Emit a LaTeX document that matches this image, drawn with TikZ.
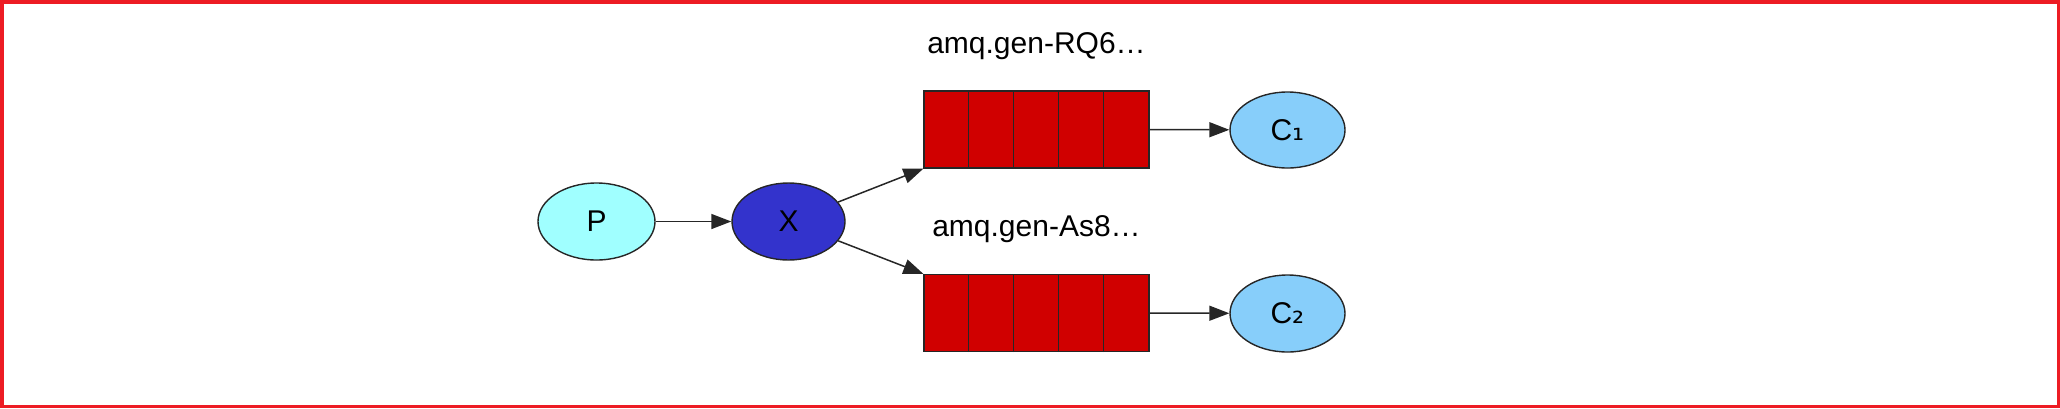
\documentclass[tikz,border=0pt]{standalone}
\usepackage{fontspec}
\setmainfont{Liberation Sans}
\newfontfamily\djv{DejaVu Sans}
\usetikzlibrary{shapes.geometric,arrows.meta}
\definecolor{framered}{HTML}{ED1C24}
\definecolor{pfill}{HTML}{A0FFFF}
\definecolor{xfill}{HTML}{3333CC}
\definecolor{qred}{HTML}{D00000}
\definecolor{cfill}{HTML}{87CEFA}
\tikzset{
  ell/.style={ellipse, draw=black!85, line width=0.7pt, inner sep=0pt,
    font=\fontsize{15}{15}\selectfont},
  queuebox/.style={rectangle, draw=black!85, fill=qred, minimum width=112.5pt,
    minimum height=38.5pt, inner sep=0pt, line width=0.6pt},
  arr/.style={-{Triangle[length=10pt,width=7.5pt]}, line width=0.75pt, draw=black!85},
  qlabel/.style={anchor=base, inner sep=0pt, font=\fontsize{15}{15}\selectfont}
}
\begin{document}
\begin{tikzpicture}[x=0.5pt,y=-0.5pt]
\useasboundingbox (0,0) rectangle (2060,408);
\draw[draw=framered, line width=1.75pt] (1.75,1.75) rectangle (2058.25,406.25);

\node[ell, fill=pfill, minimum width=58.5pt, minimum height=38.5pt] (P) at (596.5,221.5) {P};
\node[ell, fill=xfill, minimum width=56.5pt, minimum height=38.5pt] (X) at (788.5,221.5) {X};

\node[queuebox] (q1) at (1036.5,129.5) {};
\node[queuebox] (q2) at (1036.5,313) {};
\foreach \q in {q1,q2}{
  \foreach \i in {1,...,4}{
    \draw[line width=0.6pt, black!85] (\q.south west) ++(\i*45,0) -- ++(0,-77);
  }
}
\node[qlabel] (l1) at (1036.5,53) {amq.gen-RQ6…};
\node[qlabel] (l2) at (1036.5,236) {amq.gen-As8…};

\node[ell, fill=cfill, minimum width=57.5pt, minimum height=38pt] (C1) at (1287.5,130) {C{\djv ₁}};
\node[ell, fill=cfill, minimum width=57.5pt, minimum height=38.5pt] (C2) at (1287.5,313.5) {C{\djv ₂}};

\draw[arr] (P) -- (X);
\draw[arr] (X) -- (q1.south west);
\draw[arr] (X) -- (q2.north west);
\draw[arr] (q1.east) -- (C1);
\draw[arr] (q2.east) -- (C2);
\end{tikzpicture}
\end{document}
